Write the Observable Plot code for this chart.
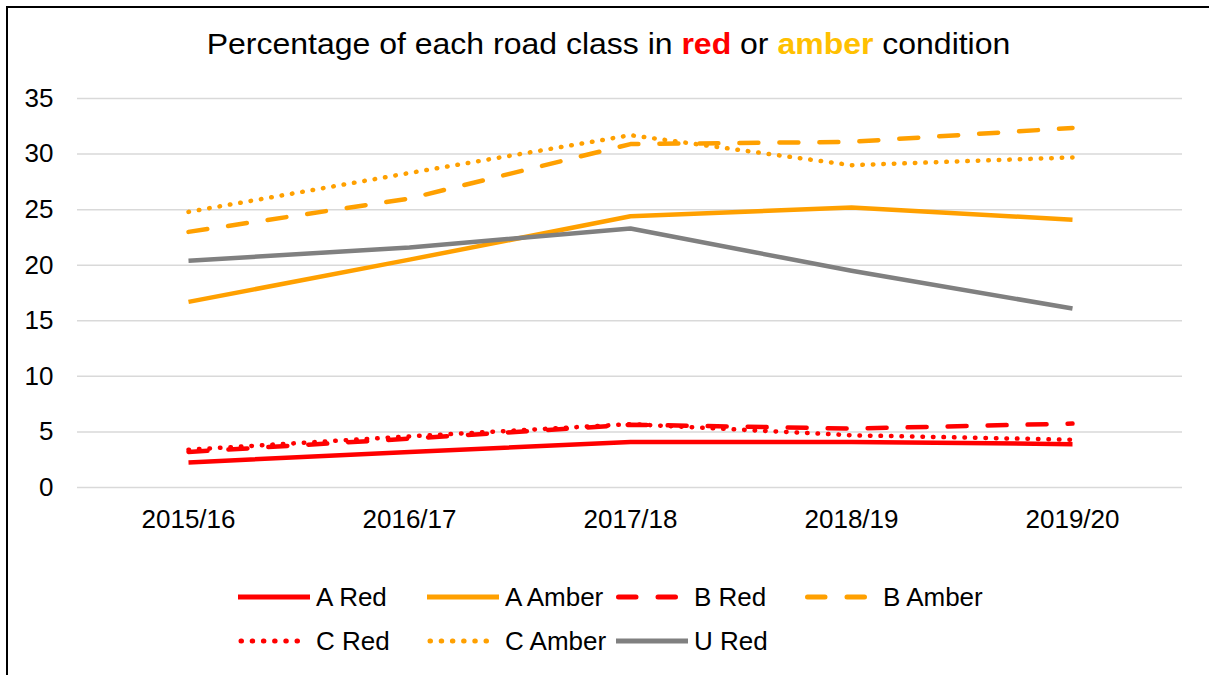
<!DOCTYPE html>
<html>
<head>
<meta charset="utf-8">
<script src="https://cdn.jsdelivr.net/npm/d3@7"></script>
<script src="https://cdn.jsdelivr.net/npm/@observablehq/plot@0.6"></script>
<style>
  html, body { margin: 0; padding: 0; background: #fff; overflow: hidden; }
  body { width: 1209px; height: 675px; position: relative; font-family: "Liberation Sans", Arial, sans-serif; }
  #frame { position: absolute; left: 6px; top: 6px; width: 1300px; height: 800px; border-left: 2px solid #000; border-top: 2px solid #000; }
  #title { position: absolute; left: 0; width: 1217px; top: 29px; text-align: center; font-size: 30px; line-height: 30px; color: #000; transform: scaleX(1.066); transform-origin: 608px 0; }
  #title .r { color: #ff0000; font-weight: bold; }
  #title .a { color: #ffc000; font-weight: bold; }
  #chart { position: absolute; left: 0; top: 0; }
  #legend { position: absolute; left: 238px; top: 582px; display: grid; grid-template-columns: repeat(4, 189px); row-gap: 14px; }
  .item { display: flex; align-items: center; height: 30px; font-size: 26px; color: #000; white-space: nowrap; }
  .item svg { margin-right: 6px; flex: none; }
</style>
</head>
<body>
<div id="frame"></div>
<div id="chart"></div>
<div id="title">Percentage of each road class in <span class="r">red</span> or <span class="a">amber</span> condition</div>
<div id="legend"></div>
<script>
const years = ["2015/16", "2016/17", "2017/18", "2018/19", "2019/20"];
const aRed   = [2.25, 3.2, 4.1, 4.1, 3.9];
const aAmber = [16.7, 20.5, 24.4, 25.2, 24.1];
const bRed   = [3.2, 4.4, 5.65, 5.3, 5.75];
const bAmber = [23.0, 26.0, 30.9, 31.1, 32.35];
const cRed   = [3.4, 4.6, 5.7, 4.7, 4.3];
const cAmber = [24.8, 28.3, 31.7, 29.0, 29.7];
const uRed   = [20.4, 21.6, 23.3, 19.5, 16.1];
const yTicks = [0, 5, 10, 15, 20, 25, 30, 35];

const RED = "#ff0000", AMBER = "#ffa000", GREY = "#808080";
const SOLID = null, DASH = "19,21", DOT = "0.5,10";

const series = [
  {name: "A Red", values: aRed, color: RED, dash: SOLID},
  {name: "A Amber", values: aAmber, color: AMBER, dash: SOLID},
  {name: "B Red", values: bRed, color: RED, dash: DASH},
  {name: "B Amber", values: bAmber, color: AMBER, dash: DASH},
  {name: "C Red", values: cRed, color: RED, dash: DOT},
  {name: "C Amber", values: cAmber, color: AMBER, dash: DOT},
  {name: "U Red", values: uRed, color: GREY, dash: SOLID}
];

const lineMarks = series.map(s => Plot.line(
  years.map((y, i) => ({year: y, value: s.values[i]})),
  {x: "year", y: "value", stroke: s.color, strokeWidth: 4.5,
   strokeDasharray: s.dash ?? undefined, strokeLinecap: s.dash ? "round" : "butt", strokeLinejoin: "round"}
));

const chart = Plot.plot({
  width: 1209,
  height: 560,
  marginLeft: 77,
  marginRight: 27,
  marginTop: 98,
  marginBottom: 73,
  style: {fontFamily: "'Liberation Sans', Arial, sans-serif", fontSize: "26px", color: "#000", background: "transparent"},
  x: {type: "point", domain: years, padding: 0.5, label: null},
  y: {domain: [0, 35], label: null},
  marks: [
    Plot.gridY(yTicks, {stroke: "#d9d9d9", strokeOpacity: 1, strokeWidth: 1.5}),
    Plot.axisY(yTicks, {tickSize: 0, tickPadding: 24, label: null, fontSize: 26}),
    Plot.axisX(years, {tickSize: 0, tickPadding: 22, label: null, fontSize: 26}),
    ...lineMarks
  ]
});
document.getElementById("chart").appendChild(chart);

const legend = document.getElementById("legend");
for (const s of series) {
  const item = document.createElement("div");
  item.className = "item";
  const svg = d3.create("svg").attr("width", 72).attr("height", 12);
  const isDash = s.dash === DASH, isDot = s.dash === DOT;
  svg.append("line")
    .attr("x1", isDash ? 2.5 : (isDot ? 3 : 0))
    .attr("x2", isDash ? 60 : (isDot ? 70 : 72))
    .attr("y1", 6).attr("y2", 6)
    .attr("stroke", s.color).attr("stroke-width", 5)
    .attr("stroke-linecap", s.dash ? "round" : "butt")
    .attr("stroke-dasharray", isDash ? "17.5,22" : (isDot ? "0.5,10.7" : null));
  item.appendChild(svg.node());
  item.appendChild(document.createTextNode(s.name));
  legend.appendChild(item);
}
</script>
</body>
</html>
